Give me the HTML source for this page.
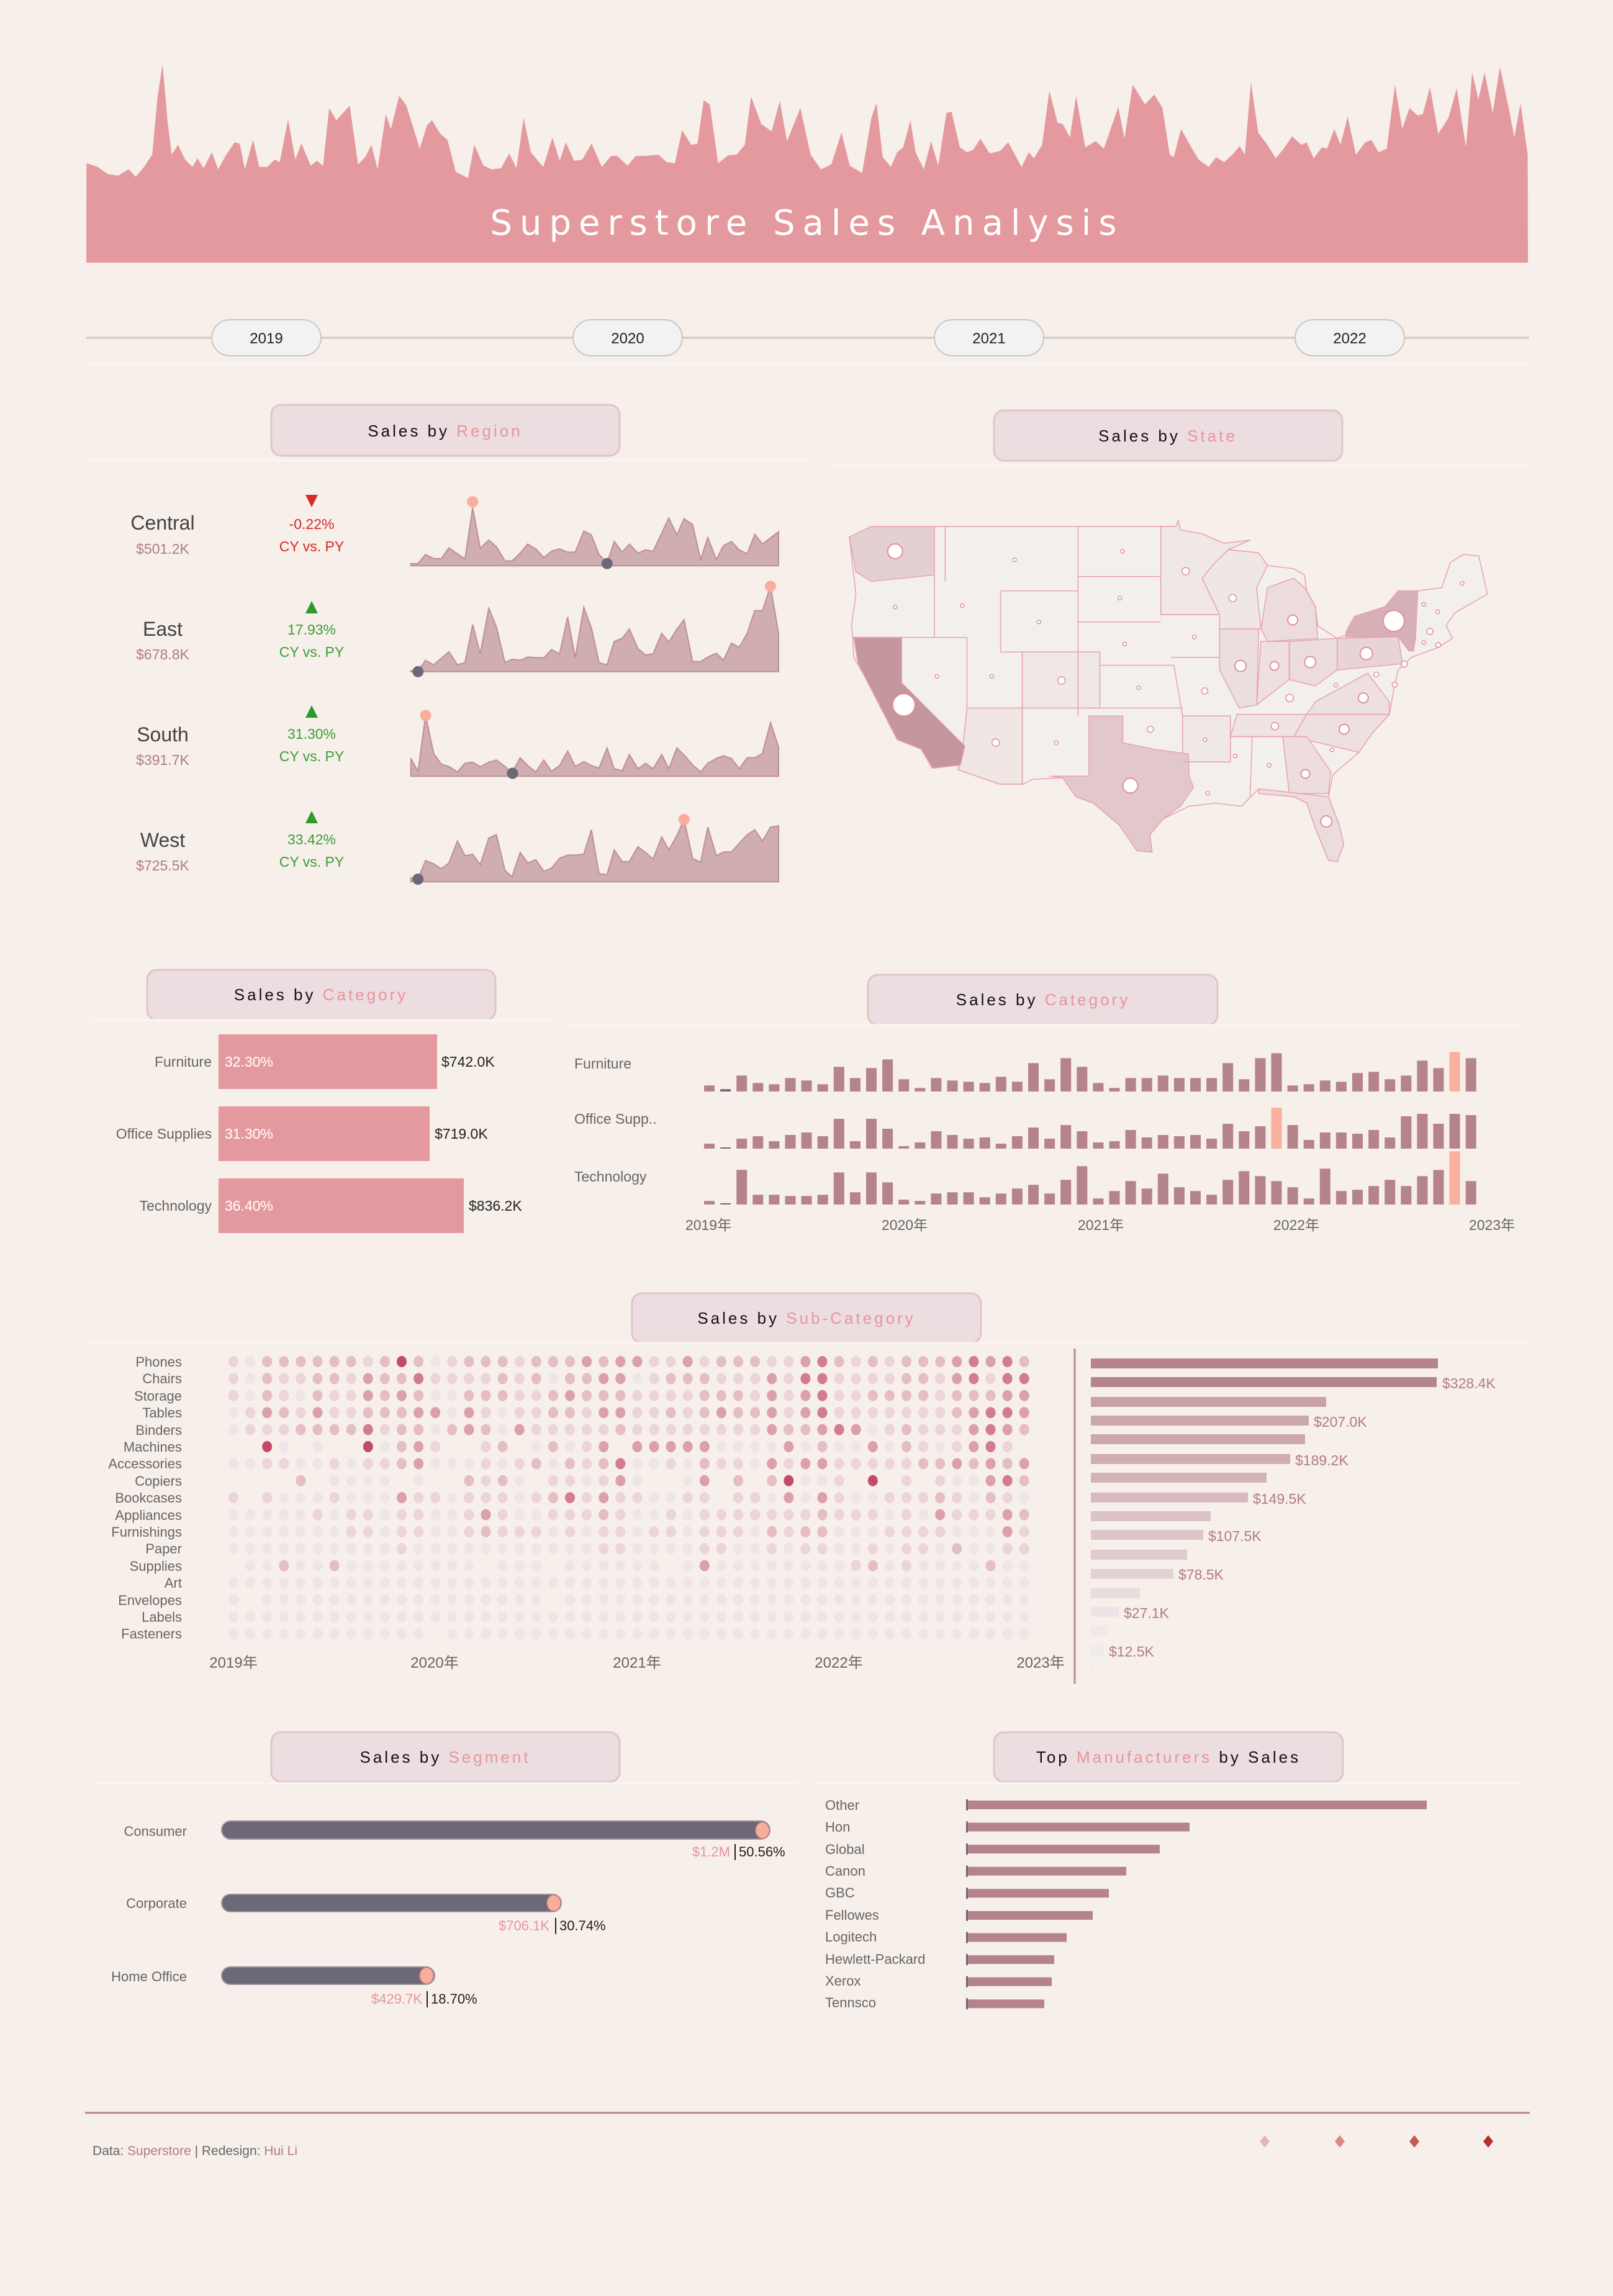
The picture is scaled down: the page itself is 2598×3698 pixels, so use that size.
<!DOCTYPE html>
<html><head><meta charset="utf-8"><style>
html,body{margin:0;padding:0;background:#f7efe9;}
svg{display:block;font-family:"Liberation Sans","Noto Sans CJK SC",sans-serif;}
</style></head><body>
<svg id="s" width="2598" height="3698" viewBox="0 0 2598 3698" xmlns="http://www.w3.org/2000/svg">
<rect width="2598" height="3698" fill="#f7efe9"/>
<g id="hdr"></g>
<text x="1300" y="378" fill="#fff" font-family="DejaVu Sans, sans-serif" font-size="56" text-anchor="middle" letter-spacing="12">Superstore  Sales  Analysis</text>
<!-- year row -->
<line x1="139" y1="544" x2="2463" y2="544" stroke="#cfcac6" stroke-width="3"/>
<line x1="139" y1="586" x2="2463" y2="586" stroke="#fbf7f4" stroke-width="3"/>
<g fill="#f3f2f2" stroke="#c8c6c4" stroke-width="2">
<rect x="341" y="515" width="176" height="58" rx="29"/>
<rect x="923" y="515" width="176" height="58" rx="29"/>
<rect x="1505" y="515" width="176" height="58" rx="29"/>
<rect x="2086" y="515" width="176" height="58" rx="29"/>
</g>
<g font-size="24" fill="#222" text-anchor="middle">
<text x="429" y="553">2019</text><text x="1011" y="553">2020</text><text x="1593" y="553">2021</text><text x="2174" y="553">2022</text>
</g>
<!-- title boxes -->
<g fill="#ecdde0" stroke="#e0c5c9" stroke-width="3">
<rect x="437" y="652" width="561" height="82" rx="16"/>
<rect x="1601" y="661" width="561" height="81" rx="16"/>
<rect x="237" y="1562" width="561" height="81" rx="16"/>
<rect x="1398" y="1570" width="563" height="81" rx="16"/>
<rect x="1018" y="2083" width="562" height="80" rx="16"/>
<rect x="437" y="2790" width="561" height="80" rx="16"/>
<rect x="1601" y="2790" width="562" height="80" rx="16"/>
</g>
<g stroke="#fbf6f3" stroke-width="3">
<line x1="140" y1="741" x2="1300" y2="741"/><line x1="1340" y1="750" x2="2460" y2="750"/>
<line x1="147" y1="1643" x2="888" y2="1643"/><line x1="912" y1="1651" x2="2450" y2="1651"/>
<line x1="140" y1="2163" x2="2460" y2="2163"/>
<line x1="152" y1="2872" x2="1285" y2="2872"/><line x1="1316" y1="2872" x2="2447" y2="2872"/>
</g>
<g font-size="26" letter-spacing="4" text-anchor="middle" fill="#111">
<text x="717" y="703">Sales by <tspan fill="#e8959c">Region</tspan></text>
<text x="1881" y="711">Sales by <tspan fill="#e8959c">State</tspan></text>
<text x="517" y="1611">Sales by <tspan fill="#e8959c">Category</tspan></text>
<text x="1680" y="1619">Sales by <tspan fill="#e8959c">Category</tspan></text>
<text x="1299" y="2132">Sales by <tspan fill="#e8959c">Sub-Category</tspan></text>
<text x="717" y="2839">Sales by <tspan fill="#e8959c">Segment</tspan></text>
<text x="1882" y="2839">Top <tspan fill="#e8959c">Manufacturers</tspan> by Sales</text>
</g>
<!-- region -->
<g id="spark"></g>
<g text-anchor="middle">
<g font-size="32" fill="#444"><text x="262" y="853">Central</text><text x="262" y="1024">East</text><text x="262" y="1194">South</text><text x="262" y="1364">West</text></g>
<g font-size="23" fill="#b07c85"><text x="262" y="892">$501.2K</text><text x="262" y="1062">$678.8K</text><text x="262" y="1232">$391.7K</text><text x="262" y="1402">$725.5K</text></g>
<g font-size="23"><text x="502" y="852" fill="#d52b2b">-0.22%</text><text x="502" y="888" fill="#d52b2b">CY vs. PY</text>
<text x="502" y="1022" fill="#3a9e3a">17.93%</text><text x="502" y="1058" fill="#3a9e3a">CY vs. PY</text>
<text x="502" y="1190" fill="#3a9e3a">31.30%</text><text x="502" y="1226" fill="#3a9e3a">CY vs. PY</text>
<text x="502" y="1360" fill="#3a9e3a">33.42%</text><text x="502" y="1396" fill="#3a9e3a">CY vs. PY</text></g>
</g>
<polygon points="492,797 512,797 502,817" fill="#d52b2b"/>
<polygon points="492,988 512,988 502,968" fill="#2e9a2e"/>
<polygon points="492,1156 512,1156 502,1136" fill="#2e9a2e"/>
<polygon points="492,1326 512,1326 502,1306" fill="#2e9a2e"/>
<!-- map -->
<g id="map"></g>
<!-- category left -->
<g fill="#e4999f"><rect x="352" y="1666" width="352" height="88"/><rect x="352" y="1782" width="340" height="88"/><rect x="352" y="1898" width="395" height="88"/></g>
<g font-size="23">
<g fill="#666" text-anchor="end"><text x="341" y="1718">Furniture</text><text x="341" y="1834">Office Supplies</text><text x="341" y="1950">Technology</text></g>
<g fill="#fff"><text x="362" y="1718">32.30%</text><text x="362" y="1834">31.30%</text><text x="362" y="1950">36.40%</text></g>
<g fill="#222"><text x="711" y="1718">$742.0K</text><text x="700" y="1834">$719.0K</text><text x="755" y="1950">$836.2K</text></g>
<g fill="#666"><text x="925" y="1721">Furniture</text><text x="925" y="1810">Office Supp..</text><text x="925" y="1903">Technology</text></g>
<g fill="#666" text-anchor="middle"><text x="1141" y="1981">2019年</text><text x="1457" y="1981">2020年</text><text x="1773" y="1981">2021年</text><text x="2088" y="1981">2022年</text><text x="2403" y="1981">2023年</text></g>
</g>
<g id="cols"></g>
<!-- subcat -->
<g id="dots"></g>
<g font-size="22" fill="#666" text-anchor="end">
<text x="293" y="2201">Phones</text><text x="293" y="2228">Chairs</text><text x="293" y="2256">Storage</text><text x="293" y="2283">Tables</text><text x="293" y="2311">Binders</text><text x="293" y="2338">Machines</text><text x="293" y="2365">Accessories</text><text x="293" y="2393">Copiers</text><text x="293" y="2420">Bookcases</text><text x="293" y="2448">Appliances</text><text x="293" y="2475">Furnishings</text><text x="293" y="2502">Paper</text><text x="293" y="2530">Supplies</text><text x="293" y="2557">Art</text><text x="293" y="2585">Envelopes</text><text x="293" y="2612">Labels</text><text x="293" y="2639">Fasteners</text>
</g>
<g font-size="24" fill="#666" text-anchor="middle"><text x="376" y="2686">2019年</text><text x="700" y="2686">2020年</text><text x="1026" y="2686">2021年</text><text x="1351" y="2686">2022年</text><text x="1676" y="2686">2023年</text></g>
<line x1="1731" y1="2172" x2="1731" y2="2712" stroke="#b98a92" stroke-width="3"/>
<g id="hbars"></g>
<g font-size="23" fill="#b07c85">
<text x="2323" y="2236">$328.4K</text><text x="2116" y="2298">$207.0K</text><text x="2086" y="2360">$189.2K</text><text x="2018" y="2422">$149.5K</text><text x="1946" y="2482">$107.5K</text><text x="1898" y="2544">$78.5K</text><text x="1810" y="2606">$27.1K</text><text x="1786" y="2668">$12.5K</text>
</g>
<!-- segment -->
<g fill="#6d6876" stroke="#9a95a0" stroke-width="2">
<rect x="357" y="2933" width="883" height="29" rx="14.5"/><rect x="357" y="3051" width="547" height="28" rx="14"/><rect x="357" y="3168" width="343" height="28" rx="14"/>
</g>
<g fill="#f9ae9c" stroke="#c98080" stroke-width="1.5"><ellipse cx="1228" cy="2948" rx="11" ry="13"/><ellipse cx="892" cy="3065" rx="11" ry="13"/><ellipse cx="687" cy="3182" rx="11" ry="13"/></g>
<g font-size="22" fill="#666" text-anchor="end"><text x="301" y="2957">Consumer</text><text x="301" y="3073">Corporate</text><text x="301" y="3191">Home Office</text></g>
<g font-size="22" text-anchor="end"><text x="1176" y="2990" fill="#e8959c">$1.2M</text><text x="885" y="3109" fill="#e8959c">$706.1K</text><text x="680" y="3227" fill="#e8959c">$429.7K</text></g>
<g stroke="#222" stroke-width="2"><line x1="1184" y1="2970" x2="1184" y2="2996"/><line x1="895" y1="3089" x2="895" y2="3115"/><line x1="688" y1="3207" x2="688" y2="3233"/></g>
<g font-size="22" fill="#222"><text x="1190" y="2990">50.56%</text><text x="901" y="3109">30.74%</text><text x="694" y="3227">18.70%</text></g>
<!-- manufacturers -->
<g id="mfr"></g>
<g font-size="22" fill="#666"><text x="1329" y="2915">Other</text><text x="1329" y="2950">Hon</text><text x="1329" y="2986">Global</text><text x="1329" y="3021">Canon</text><text x="1329" y="3056">GBC</text><text x="1329" y="3092">Fellowes</text><text x="1329" y="3127">Logitech</text><text x="1329" y="3163">Hewlett-Packard</text><text x="1329" y="3198">Xerox</text><text x="1329" y="3233">Tennsco</text></g>
<!-- footer -->
<line x1="137" y1="3403" x2="2464" y2="3403" stroke="#b5838c" stroke-width="3"/>
<text x="149" y="3471" font-size="21" fill="#666">Data: <tspan fill="#b07c85">Superstore</tspan> | Redesign: <tspan fill="#b07c85">Hui Li</tspan></text>
<g><polygon points="2037,3439 2045,3449 2037,3459 2029,3449" fill="#e6b8b4"/><polygon points="2158,3439 2166,3449 2158,3459 2150,3449" fill="#d98a84"/><polygon points="2278,3439 2286,3449 2278,3459 2270,3449" fill="#c65a52"/><polygon points="2397,3439 2405,3449 2397,3459 2389,3449" fill="#b3302c"/></g>
</svg>
<script>
const NS="http://www.w3.org/2000/svg";
function el(t,a,p){const e=document.createElementNS(NS,t);for(const k in a)e.setAttribute(k,a[k]);p.appendChild(e);return e;}
const H=[84,665,95,680,105,710,115,715,125,690,132,720,140,680,148,630,153,400,158,262,163,500,167,630,173,590,180,650,187,680,192,645,198,685,206,620,212,690,220,630,228,580,233,585,238,690,246,570,252,680,260,680,267,650,272,660,280,485,287,650,293,585,302,675,308,655,314,675,320,440,327,490,340,430,348,670,355,640,361,590,367,690,375,465,380,525,388,390,395,430,408,605,415,510,420,490,428,545,435,570,443,700,455,725,461,590,470,675,478,690,487,685,495,625,502,685,509,480,516,620,528,680,537,560,544,655,550,580,558,655,566,650,575,585,585,680,594,635,600,635,610,675,618,635,628,635,640,630,648,660,656,665,663,530,672,590,678,585,684,408,690,425,698,665,708,632,716,630,724,590,730,393,740,505,750,535,758,412,765,575,778,440,788,630,798,690,808,670,818,540,826,675,838,705,847,480,852,420,858,640,866,680,872,620,878,600,885,490,890,620,898,690,905,575,912,675,920,460,925,455,933,600,940,620,946,610,953,565,962,625,972,615,980,580,993,680,1000,620,1005,645,1013,590,1020,370,1028,500,1033,505,1040,560,1046,390,1055,600,1065,575,1073,605,1087,435,1093,565,1101,345,1113,425,1122,385,1130,440,1137,630,1141,640,1148,525,1158,600,1165,650,1175,680,1182,640,1190,660,1198,630,1205,595,1210,630,1216,335,1223,540,1232,590,1240,645,1248,605,1256,555,1265,590,1270,580,1277,645,1285,600,1290,605,1297,525,1303,590,1310,475,1318,630,1327,580,1333,570,1340,620,1348,605,1356,345,1363,525,1370,440,1378,470,1383,465,1390,355,1398,545,1408,480,1416,360,1425,600,1431,295,1437,405,1443,295,1451,460,1458,272,1467,450,1472,560,1478,420,1485,630];
let d="M139,423 ";for(let i=0;i<H.length;i+=2)d+="L"+(H[i]/0.6035).toFixed(1)+","+(H[i+1]/2.529).toFixed(1)+" ";
d+="L2461,423 Z";
el("path",{d:d,fill:"#e4999f"},document.getElementById("hdr"));
const SP=[[557,[682,550,697,550,713,522,730,535,746,535,762,502,780,520,796,536,812,378,828,503,846,478,862,498,880,542,895,542,912,518,928,490,945,505,962,532,978,512,995,505,1012,515,1028,515,1046,450,1062,462,1078,522,1095,548,1110,482,1127,515,1142,490,1160,518,1176,508,1192,512,1225,410,1242,462,1257,412,1275,430,1292,538,1307,470,1325,538,1340,495,1357,482,1373,508,1390,520,1406,460,1422,490,1456,452],[812,360],[1095,550]],
[883,[682,880,697,880,713,848,730,862,746,842,762,822,780,862,796,855,812,738,828,828,846,688,862,745,880,855,895,845,912,848,928,838,945,840,962,840,978,815,995,828,1012,715,1028,840,1046,685,1062,748,1078,855,1095,862,1110,790,1127,780,1142,752,1160,812,1176,832,1192,828,1210,765,1225,792,1242,752,1257,723,1275,852,1292,852,1307,838,1325,826,1340,848,1357,795,1373,808,1390,765,1406,695,1422,695,1439,620,1456,765],[1439,620],[697,883]],
[1205,[682,1150,697,1190,713,1018,730,1135,746,1168,762,1175,780,1192,796,1165,812,1162,828,1176,846,1162,862,1155,880,1175,895,1195,912,1148,928,1172,945,1192,962,1155,978,1190,995,1172,1012,1128,1028,1175,1046,1160,1062,1172,1078,1180,1095,1118,1110,1182,1127,1188,1142,1138,1160,1182,1176,1165,1192,1182,1210,1138,1225,1182,1242,1118,1257,1140,1275,1170,1292,1192,1307,1165,1325,1150,1340,1142,1357,1150,1373,1182,1390,1148,1406,1148,1422,1135,1439,1040,1456,1115],[713,1018],[896,1196]],
[1530,[682,1518,697,1520,713,1465,730,1475,746,1490,762,1472,780,1405,796,1450,812,1445,828,1478,846,1395,862,1385,880,1495,895,1515,912,1440,928,1472,945,1462,962,1498,978,1488,995,1458,1012,1448,1028,1448,1046,1445,1062,1370,1078,1505,1095,1508,1110,1432,1127,1468,1142,1468,1160,1422,1176,1440,1192,1460,1210,1392,1225,1432,1242,1388,1257,1338,1275,1458,1292,1470,1307,1362,1325,1450,1340,1438,1357,1438,1373,1412,1390,1385,1406,1370,1422,1405,1439,1362,1456,1358],[1257,1338],[697,1522]]];
const sg=document.getElementById("spark");
const tx=z=>140+z*0.7651, ty=z=>620+z*0.523;
SP.forEach(r=>{const b=r[0],p=r[1];let s="M"+tx(p[0])+","+ty(b);for(let i=0;i<p.length;i+=2)s+=" L"+tx(p[i]).toFixed(1)+","+ty(p[i+1]).toFixed(1);s+=" L"+tx(1456)+","+ty(b)+" Z";
el("path",{d:s,fill:"#cfadb1",stroke:"#bf8f97","stroke-width":2},sg);
el("circle",{cx:tx(r[2][0]),cy:ty(r[2][1]),r:9,fill:"#f9ae9c"},sg);
el("circle",{cx:tx(r[3][0]),cy:ty(r[3][1]),r:9,fill:"#6d6876"},sg);});
const mg=document.getElementById("map");
const g=el("g",{transform:"translate(1340,620) scale(0.7015,0.5102)"},mg);
function poly(pts,fill){el("polygon",{points:pts,fill:fill,stroke:"#e8a3aa","stroke-width":1.5,"vector-effect":"non-scaling-stroke"},g);}
poly("40,480 90,447 790,447 795,428 800,458 850,470 900,500 960,490 910,520 980,530 1000,570 1060,580 1085,600 1090,650 1110,700 1115,760 1160,800 1180,790 1270,700 1300,650 1345,650 1400,640 1420,560 1450,535 1485,540 1505,660 1430,720 1410,760 1425,800 1390,830 1330,860 1300,900 1290,960 1280,1040 1240,1100 1210,1160 1150,1230 1140,1300 1165,1390 1175,1450 1160,1505 1140,1500 1110,1400 1090,1320 1060,1300 1000,1290 980,1275 940,1330 880,1320 820,1330 760,1370 730,1420 735,1475 700,1470 660,1390 600,1320 560,1300 530,1240 460,1245 440,1260 385,1260 290,1215 295,1150 230,1210 205,1150 150,1120 105,1000 75,920 50,860 48,800 45,760 55,660","#f3efed");
poly("755,447 790,447 795,428 800,458 850,470 900,500 960,490 910,520 880,560 850,610 890,725 755,725","#f0e8e6");
poly("850,610 880,560 910,520 980,530 1000,570 975,640 985,770 890,770 890,725","#efe6e6");
poly("1000,640 1060,610 1085,640 1110,700 1115,800 1000,810 985,770","#eddcdd");
poly("890,770 980,770 975,1010 935,1020 890,900","#ecdedf");
poly("985,810 1050,810 1050,930 975,1010","#eedfe0");
poly("1050,810 1160,800 1160,900 1110,950 1050,930","#ecdcdd");
poly("1160,800 1300,795 1310,880 1160,900","#e8d4d6");
poly("1180,795 1180,780 1200,730 1270,700 1300,650 1345,650 1340,800 1335,840 1325,840 1300,795","#d6b0b6");
poly("1110,1000 1230,910 1280,1000 1280,1040 1090,1040","#eedfe0");
poly("1060,1110 1090,1040 1280,1040 1240,1100 1210,1160","#eedfe0");
poly("930,1040 1090,1040 1060,1110 915,1110","#efe3e3");
poly("1035,1110 1090,1110 1145,1220 1140,1290 1050,1290","#edddde");
poly("980,1275 1140,1300 1165,1390 1175,1450 1160,1505 1140,1500 1110,1400 1090,1320 1060,1300 980,1290","#ecdcdd");
poly("40,480 90,447 235,447 235,600 90,620 55,590","#e4d0d3");
poly("310,1020 437,1020 437,1260 385,1260 290,1215 300,1150","#f0e6e4");
poly("437,843 615,843 615,1020 437,1020","#f0e8e6");
poly("805,1045 915,1045 915,1190 805,1190","#f0e8e6");
poly("590,1045 668,1045 668,1130 740,1150 818,1165 820,1235 830,1270 800,1330 760,1370 730,1420 735,1475 700,1470 660,1390 600,1320 560,1300 530,1240 500,1235 590,1235","#e2c8cc");
poly("50,797 160,797 160,940 305,1140 295,1200 232,1210 205,1150 150,1120 105,1000 60,880","#c4969e");
const L=[[235,447,235,797],[45,797,310,797],[310,797,310,1020],[260,447,260,620],[387,650,387,843],[387,843,437,843],[437,843,437,1260],[565,447,565,1045],[565,605,755,605],[565,748,755,748],[387,650,565,650],[615,885,785,885],[785,885,805,1045],[590,1020,805,1020],[755,447,755,725],[755,725,890,725],[778,860,890,860],[805,1190,915,1190],[915,1110,1035,1110],[965,1110,960,1300],[1050,810,1050,930]];
L.forEach(l=>el("line",{x1:l[0],y1:l[1],x2:l[2],y2:l[3],stroke:"#e8a3aa","stroke-width":1.5,"vector-effect":"non-scaling-stroke"},g));
const C=[[165,1010,18],[1290,745,17],[685,1265,12],[145,525,12],[1227,848,10],[938,887,9],[1098,875,9],[1058,742,8],[1135,1378,9],[1220,988,8],[1176,1087,8],[1016,887,7],[1051,988,6],[1017,1077,6],[1087,1228,7],[527,933,6],[812,588,6],[920,673,6],[376,1129,6],[731,1087,5],[856,966,5],[1314,881,5],[1373,778,5],[1292,946,4],[1250,914,4],[1392,821,4],[1359,813,3],[145,701,3],[299,697,3],[419,552,3],[667,525,3],[661,673,3],[475,748,3],[672,818,3],[704,956,3],[241,920,3],[367,920,3],[515,1129,3],[832,796,3],[857,1120,3],[926,1171,3],[1004,1201,3],[1148,1152,3],[863,1289,3],[1157,948,3],[1447,627,3],[1359,693,3],[1391,716,3]];
C.forEach(c=>el("circle",{cx:1340+c[0]*0.7015,cy:620+c[1]*0.5102,r:c[2],fill:"#fff",stroke:"#e0909a","stroke-width":c[2]>6?2:1.5},mg));
const cg=document.getElementById("cols");
const F=[624,642,576,612,618,588,600,618,534,588,540,498,594,636,588,600,606,612,582,606,516,594,492,534,612,636,588,588,576,588,588,588,516,594,492,468,624,618,600,606,564,558,594,576,504,540,462,492];
const O=[906,924,882,870,894,864,852,870,786,894,786,834,918,900,846,864,882,876,906,870,828,882,816,846,900,894,840,876,864,870,864,882,810,846,822,732,816,888,852,852,858,840,876,774,762,810,762,768];
const T=[1182,1193,1032,1152,1152,1158,1158,1152,1044,1140,1044,1092,1176,1182,1146,1140,1140,1164,1146,1122,1104,1146,1080,1014,1170,1134,1086,1122,1050,1116,1134,1152,1080,1038,1062,1086,1116,1170,1026,1134,1128,1110,1080,1110,1062,1032,942,1086];
[[F,653,1758,46],[O,930,1850,35],[T,1199,1940,46]].forEach(r=>{r[0].forEach((v,i)=>{const h=(r[1]-v)/3;const x=1134+i*26.1;let f="#b5838c";if(i==1)f="#6d6876";if(i==r[3])f="#f9b09e";el("rect",{x:x.toFixed(1),y:(r[2]-h).toFixed(1),width:17,height:h.toFixed(1),fill:f},cg);});});
const R=["102222221252012221222323311312221134212122234342",
"102112213224111121202233012221113144111122134144",
"102102113232002221123222111122213134112222122233",
"013213112223303101122133112123223134111111123443",
"011122224122023203111112111111113223430121113432",
"  50 0  50231  12 02013 33333000030200302101341",
"001100101123000101202124001021103133111112232323",
"    2 0000 0  2120 110130  03 2 25001 5 1 100342",
"1 100010003110111012413110011 110303100111210210",
"000001011011001310011121001011111112111010311132",
"000000011011001211101011011011102122000111100031",
"000000000010000000000011000011001011001011020011",
" 00200200000000 000 000000 030000000012010000200",
"000000000000000000000000000000000000000000000000",
"0 00000000000000000 0000000000000000000000000000",
"000000000000000000000000000000000000000000000000",
"000000000000 00000000000000000000000000000000000"];
const col=["#efe5e9","#ebd4da","#e4bdc6","#dc9fae","#d27b92","#c44b68"];
const dg=document.getElementById("dots");
R.forEach((s,r)=>{for(let i=0;i<48;i++){const c=s[i];if(c===undefined||c===" ")continue;el("ellipse",{cx:(376+i*27.1).toFixed(1),cy:(2193+r*27.4).toFixed(1),rx:8,ry:9,fill:col[+c]},dg);}});
const hb=document.getElementById("hbars");
const E=[2316,2314,2136,2108,2102,2078,2040,2010,1950,1938,1912,1890,1836,1802,1784,1778,1761];
const HC=["#b5838c","#b5838c","#c8a1a8","#cba6ac","#cca8ae","#cfadb2","#d3b3b8","#d7babf","#dbc3c7","#ddc6ca","#dfcbce","#e2d2d4","#e8dcdd","#ede5e5","#eeeaea","#efebeb","#f0eded"];
const Y=[2188,2218,2250,2280,2310,2342,2372,2404,2434,2464,2496,2527,2558,2588,2618,2650,2680];
E.forEach((e,i)=>el("rect",{x:1757,y:Y[i],width:e-1757,height:16,fill:HC[i]},hb));
const mf=document.getElementById("mfr");
const ME=[2298,1916,1868,1814,1786,1760,1718,1698,1694,1682];
ME.forEach((e,i)=>{const y=2900+i*35.6;el("rect",{x:1556,y:y.toFixed(1),width:e-1556,height:14,fill:"#b5838c"},mf);el("rect",{x:1556,y:(y-2).toFixed(1),width:3,height:18,fill:"#6d6876"},mf);});
</script>
</body></html>
